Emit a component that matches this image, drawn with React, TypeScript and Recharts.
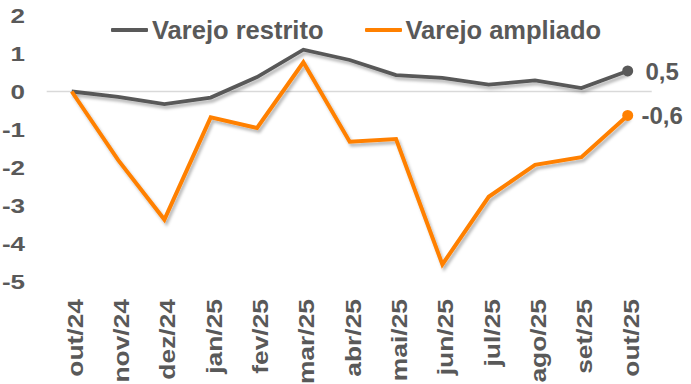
import React from 'react';
import { LineChart, Line, XAxis, YAxis, ReferenceLine } from 'recharts';

const categories = ['out/24', 'nov/24', 'dez/24', 'jan/25', 'fev/25', 'mar/25', 'abr/25', 'mai/25', 'jun/25', 'jul/25', 'ago/25', 'set/25', 'out/25'];
const restrito = [0, -0.14, -0.33, -0.16, 0.38, 1.1, 0.83, 0.43, 0.36, 0.18, 0.29, 0.09, 0.54];
const ampliado = [0, -1.8, -3.37, -0.68, -0.96, 0.77, -1.32, -1.25, -4.55, -2.77, -1.93, -1.73, -0.63];
const yTicks = [-5, -4, -3, -2, -1, 0, 1, 2];
const seriesNames = ['Varejo restrito', 'Varejo ampliado'];

const data = categories.map((c, i) => ({ cat: c, restrito: restrito[i], ampliado: ampliado[i] }));

const TEXT = '#595959';
const GRAY = '#595959';
const ORANGE = '#FF8000';
const FONT = '"Liberation Sans", Arial, sans-serif';
const LAST = categories.length - 1;
const colors = [GRAY, ORANGE];

const fmt = (v: number) => v.toFixed(1).replace('.', ',');

const XTick = (props: any) => {
  const { x, payload } = props;
  return (
    <g transform={`translate(${x},299) rotate(-90) scale(1.2,1)`}>
      <text x={0} y={11} textAnchor="end" fill={TEXT} fontFamily={FONT} fontWeight="bold" fontSize={22}>
        {payload.value}
      </text>
    </g>
  );
};

const YTick = (props: any) => {
  const { y, payload } = props;
  return (
    <g transform={`translate(25,${y}) scale(1.3,1)`}>
      <text x={0} y={0} dy="0.358em" textAnchor="end" fill={TEXT} fontFamily={FONT} fontWeight="bold" fontSize={20}>
        {payload.value}
      </text>
    </g>
  );
};

const makeDot = (color: string) => (props: any) => {
  const { cx, cy, index } = props;
  if (index !== LAST) return <g key={`d${index}`} />;
  return <circle key={`d${index}`} cx={cx} cy={cy} r={5.5} fill={color} stroke="none" />;
};

const makeLabel = () => (props: any) => {
  const { x, y, index, value } = props;
  if (index !== LAST) return <g key={`l${index}`} />;
  return (
    <text key={`l${index}`} x={x + 34.5} y={y} dy="0.358em" textAnchor="middle" fill={TEXT} fontFamily={FONT} fontWeight="bold" fontSize={24}>
      {fmt(value)}
    </text>
  );
};

const LegendBox = () => (
  <div style={{ position: 'absolute', left: 111, top: 15, display: 'flex', alignItems: 'center', fontFamily: FONT, fontWeight: 'bold', fontSize: 25.5, color: TEXT, lineHeight: '30px', whiteSpace: 'nowrap' }}>
    {seriesNames.map((n, i) => (
      <div key={i} style={{ display: 'flex', alignItems: 'center', marginRight: 41 }}>
        <div style={{ width: 37, height: 4, background: colors[i], marginRight: 4, borderRadius: 1 }} />
        <span>{n}</span>
      </div>
    ))}
  </div>
);

export default function App() {
  return (
    <div style={{ position: 'absolute', left: 0, top: 0, width: 691, height: 384, background: '#fff' }}>
      <style>{`.shadowed .recharts-line-curve { filter: url(#shadow); }`}</style>
      <div className="shadowed">
        <LineChart width={691} height={384} data={data} margin={{ top: 15.5, right: 39.3, bottom: 0, left: 0 }}>
          <defs>
            <filter id="shadow" x="-10%" y="-10%" width="130%" height="130%">
              <feDropShadow dx="2" dy="3" stdDeviation="1.6" floodColor="#000" floodOpacity="0.28" />
            </filter>
          </defs>
          <XAxis
            dataKey="cat"
            axisLine={false}
            tickLine={false}
            interval={0}
            height={102.5}
            padding={{ left: 25, right: 24 }}
            tick={XTick}
          />
          <YAxis
            width={46.7}
            domain={[-5, 2]}
            ticks={yTicks}
            axisLine={false}
            tickLine={false}
            tick={YTick}
          />
          <ReferenceLine y={0} stroke="#D9D9D9" strokeWidth={1.6} />
          <Line
            type="linear"
            dataKey="restrito"
            name={seriesNames[0]}
            stroke={GRAY}
            strokeWidth={3.8}
            dot={makeDot(GRAY)}
            activeDot={false}
            label={makeLabel()}
            isAnimationActive={false}
          />
          <Line
            type="linear"
            dataKey="ampliado"
            name={seriesNames[1]}
            stroke={ORANGE}
            strokeWidth={4}
            dot={makeDot(ORANGE)}
            activeDot={false}
            label={makeLabel()}
            isAnimationActive={false}
          />
        </LineChart>
      </div>
      <LegendBox />
    </div>
  );
}
